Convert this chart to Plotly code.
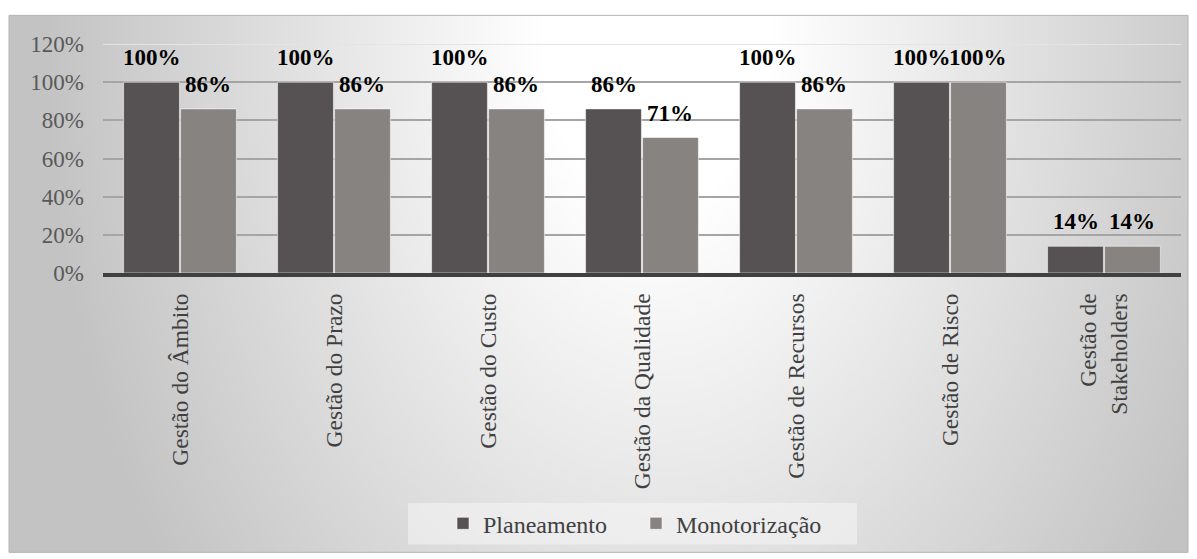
import base64
import struct
import zlib

import numpy as np
import plotly.graph_objects as go

# ---- data -------------------------------------------------------------
categories = [
    "Gestão do Âmbito",
    "Gestão do Prazo",
    "Gestão do Custo",
    "Gestão da Qualidade",
    "Gestão de Recursos",
    "Gestão de Risco",
    "Gestão de<br>Stakeholders",
]
planeamento = [1.00, 1.00, 1.00, 0.86, 1.00, 1.00, 0.14]
monotorizacao = [0.86, 0.86, 0.86, 0.71, 0.86, 1.00, 0.14]
series_names = ["Planeamento", "Monotorização"]
y_ticks = [0, 0.2, 0.4, 0.6, 0.8, 1.0, 1.2]

# ---- styling ----------------------------------------------------------
W, H = 1197, 559
ML, MR, MT, MB = 103, 16, 44, 283
PW, PH = W - ML - MR, H - MT - MB
DARK, LIGHT = "#565153", "#878381"
SERIF = "Liberation Serif, Times New Roman, serif"
BARGAP, GROUPGAP = 0.26, 0.02


def px_to_paper_x(px):
    return (px - ML) / PW


def px_to_paper_y(py):
    return (H - MB - py) / PH


def radial_png(w, h):
    """Grey radial wash, white toward the upper centre."""
    yy, xx = np.mgrid[0:h, 0:w]
    fx = xx / (w - 1)
    fy = yy / (h - 1)
    d = np.sqrt(((fx - 0.55) / 0.5) ** 2 + ((fy - 0.05) / 1.6) ** 2)
    t = np.clip((d - 0.2) / 0.85, 0, 1)
    v = (255 - 60 * t).astype(np.uint8)
    raw = b"".join(b"\x00" + v[r].tobytes() for r in range(h))

    def chunk(tag, data):
        c = struct.pack(">I", len(data)) + tag + data
        return c + struct.pack(">I", zlib.crc32(tag + data) & 0xFFFFFFFF)

    png = b"\x89PNG\r\n\x1a\n"
    png += chunk(b"IHDR", struct.pack(">IIBBBBB", w, h, 8, 0, 0, 0, 0))
    png += chunk(b"IDAT", zlib.compress(raw, 9))
    png += chunk(b"IEND", b"")
    return "data:image/png;base64," + base64.b64encode(png).decode()


fig = go.Figure()
for name, vals, col in [
    (series_names[0], planeamento, DARK),
    (series_names[1], monotorizacao, LIGHT),
]:
    fig.add_trace(
        go.Bar(
            name=name,
            x=categories,
            y=vals,
            marker=dict(color=col, line=dict(color="rgba(255,255,255,0.55)", width=1)),
        )
    )

# value labels above each bar
bar_w = (1 - BARGAP) / 2
annotations = []
for vals, off in [(planeamento, -bar_w / 2), (monotorizacao, bar_w / 2)]:
    for i, v in enumerate(vals):
        annotations.append(
            dict(
                x=i + off,
                y=v,
                xref="x",
                yref="y",
                text=f"<b>{round(v * 100)}%</b>",
                showarrow=False,
                yanchor="bottom",
                yshift=10,
                font=dict(family=SERIF, size=23, color="#000000"),
            )
        )

bg_x0, bg_x1, bg_y0, bg_y1 = 9, 1188, 15, 559
lg_x0, lg_x1, lg_y0, lg_y1 = 408, 857, 509, 551
fig.update_layout(
    width=W,
    height=H,
    margin=dict(l=ML, r=MR, t=MT, b=MB),
    paper_bgcolor="#ffffff",
    plot_bgcolor="rgba(0,0,0,0)",
    barmode="group",
    bargap=BARGAP,
    bargroupgap=GROUPGAP,
    annotations=annotations,
    images=[
        dict(
            source=radial_png(300, 140),
            xref="paper",
            yref="paper",
            x=px_to_paper_x(bg_x0),
            y=px_to_paper_y(bg_y0),
            sizex=(bg_x1 - bg_x0) / PW,
            sizey=(bg_y1 - bg_y0) / PH,
            sizing="stretch",
            layer="below",
            xanchor="left",
            yanchor="top",
        )
    ],
    shapes=[
        dict(
            type="rect",
            xref="paper",
            yref="paper",
            x0=px_to_paper_x(bg_x0),
            x1=px_to_paper_x(bg_x1),
            y0=px_to_paper_y(bg_y1),
            y1=px_to_paper_y(bg_y0),
            line=dict(color="#b4b4b4", width=1),
            layer="below",
        ),
        # legend panel
        dict(
            type="rect",
            xref="paper",
            yref="paper",
            x0=px_to_paper_x(lg_x0),
            x1=px_to_paper_x(lg_x1),
            y0=px_to_paper_y(lg_y1),
            y1=px_to_paper_y(lg_y0),
            line=dict(width=0),
            fillcolor="rgba(245,245,245,0.55)",
            layer="below",
        ),
        dict(
            type="line",
            xref="paper",
            yref="y",
            x0=0,
            x1=1,
            y0=1.2,
            y1=1.2,
            line=dict(color="#e4e4e4", width=2),
            layer="above",
        ),
    ],
    legend=dict(
        orientation="h",
        x=px_to_paper_x(443),
        y=px_to_paper_y(530),
        xanchor="left",
        yanchor="middle",
        bgcolor="rgba(0,0,0,0)",
        font=dict(family=SERIF, size=24, color="#404040"),
        entrywidth=148,
        itemclick=False,
    ),
    xaxis=dict(
        tickangle=-90,
        tickfont=dict(family=SERIF, size=23.5, color="#404040"),
        showline=True,
        linecolor="#404040",
        linewidth=4,
        ticks="",
        ticklabelstandoff=7,
        showgrid=False,
    ),
    yaxis=dict(
        range=[0, 1.2],
        tickvals=y_ticks,
        tickformat=".0%",
        tickfont=dict(family=SERIF, size=23, color="#595959"),
        gridcolor="#a5a5a5",
        gridwidth=2,
        zeroline=False,
        showline=False,
        ticks="",
        ticklabelstandoff=18,
    ),
)

fig.write_html("out.html")
